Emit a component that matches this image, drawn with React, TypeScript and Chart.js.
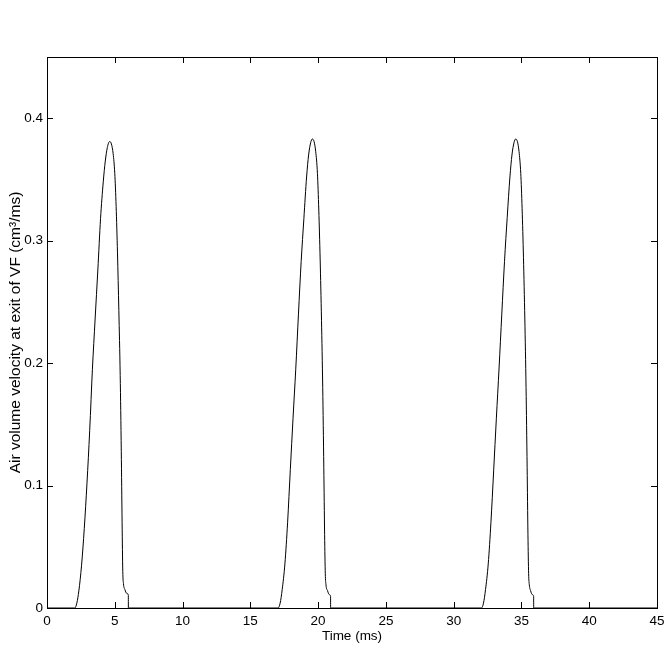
import React, { useEffect, useRef } from "react";
import { Chart, registerables } from "chart.js";

Chart.register(...registerables);

// Time (ms) and air volume velocity (cm^3/ms)
const pulse1T = [2.05, 2.2, 2.35, 2.55, 2.75, 2.95, 3.15, 3.35, 3.55, 3.75, 3.95, 4.15, 4.3, 4.45, 4.62, 4.75, 4.88, 5.0, 5.1, 5.2, 5.3, 5.4, 5.48, 5.54, 5.59, 5.64, 5.75, 5.88, 6.0, 6.002];
const pulse1V = [0, 0.004, 0.014, 0.035, 0.065, 0.102, 0.145, 0.195, 0.236, 0.276, 0.318, 0.348, 0.365, 0.376, 0.381, 0.379, 0.371, 0.355, 0.328, 0.29, 0.243, 0.19, 0.128, 0.07, 0.03, 0.02, 0.015, 0.012, 0.0105, 0];

const pulse2T = [17.05, 17.2, 17.35, 17.55, 17.75, 17.95, 18.15, 18.35, 18.55, 18.75, 18.95, 19.15, 19.3, 19.45, 19.57, 19.7, 19.82, 19.95, 20.05, 20.15, 20.25, 20.34, 20.42, 20.48, 20.53, 20.58, 20.7, 20.82, 20.92, 20.922];
const pulse2V = [0, 0.004, 0.015, 0.036, 0.07, 0.113, 0.155, 0.195, 0.24, 0.283, 0.318, 0.352, 0.37, 0.38, 0.383, 0.381, 0.373, 0.355, 0.325, 0.285, 0.235, 0.18, 0.115, 0.06, 0.028, 0.019, 0.014, 0.011, 0.0095, 0];

const pulse3T = [32.05, 32.2, 32.35, 32.55, 32.75, 32.95, 33.15, 33.35, 33.55, 33.75, 33.95, 34.15, 34.3, 34.45, 34.57, 34.7, 34.82, 34.95, 35.05, 35.15, 35.25, 35.34, 35.42, 35.48, 35.53, 35.58, 35.68, 35.79, 35.9, 35.902];
const pulse3V = [0, 0.004, 0.015, 0.036, 0.07, 0.112, 0.155, 0.196, 0.24, 0.283, 0.319, 0.352, 0.37, 0.38, 0.383, 0.381, 0.373, 0.355, 0.326, 0.286, 0.236, 0.18, 0.115, 0.06, 0.028, 0.019, 0.014, 0.011, 0.0095, 0];

const xTicks = [0, 5, 10, 15, 20, 25, 30, 35, 40, 45];
const yTicks = [0, 0.1, 0.2, 0.3, 0.4];
const xRange = [0, 45];
const yRange = [0, 0.45];

const FONT = "'Liberation Sans', Arial, Helvetica, sans-serif";

function buildPoints() {
  const pts: { x: number; y: number }[] = [{ x: xRange[0], y: 0 }];
  const add = (t: number[], v: number[]) => t.forEach((x, i) => pts.push({ x, y: v[i] }));
  add(pulse1T, pulse1V);
  add(pulse2T, pulse2V);
  add(pulse3T, pulse3V);
  pts.push({ x: xRange[1], y: 0 });
  return pts;
}

const frameTicks = {
  id: "frameTicks",
  afterDraw(chart: any) {
    const { ctx, chartArea: a, scales } = chart;
    const len = 6;
    ctx.save();
    ctx.strokeStyle = "#000";
    ctx.lineWidth = 1;
    ctx.beginPath();
    xTicks.forEach((v) => {
      const px = Math.round(scales.x.getPixelForValue(v)) + 0.5;
      ctx.moveTo(px, a.bottom);
      ctx.lineTo(px, a.bottom - len);
      ctx.moveTo(px, a.top);
      ctx.lineTo(px, a.top + len);
    });
    yTicks.forEach((v) => {
      const py = Math.round(scales.y.getPixelForValue(v)) + 0.5;
      ctx.moveTo(a.left, py);
      ctx.lineTo(a.left + len, py);
      ctx.moveTo(a.right, py);
      ctx.lineTo(a.right - len, py);
    });
    ctx.stroke();
    ctx.strokeRect(Math.round(a.left) + 0.5, Math.round(a.top) + 0.5, Math.round(a.right - a.left), Math.round(a.bottom - a.top));
    ctx.restore();
  },
};

export default function App() {
  const ref = useRef<HTMLCanvasElement | null>(null);
  useEffect(() => {
    document.body.style.margin = "0";
    const canvas = ref.current!;
    const chart = new Chart(canvas, {
      type: "line",
      data: {
        datasets: [
          {
            data: buildPoints(),
            borderColor: "#000",
            borderWidth: 1,
            pointRadius: 0,
            cubicInterpolationMode: "monotone",
            fill: false,
          },
        ],
      },
      options: {
        responsive: false,
        animation: false,
        events: [],
        layout: { padding: { top: 57, right: 13, left: 0, bottom: 0 } },
        plugins: { legend: { display: false }, tooltip: { enabled: false } },
        scales: {
          x: {
            type: "linear",
            min: xRange[0],
            max: xRange[1],
            afterBuildTicks: (s: any) => {
              s.ticks = xTicks.map((value) => ({ value }));
            },
            afterFit: (s: any) => {
              s.height = 43;
            },
            grid: { display: false, drawTicks: false },
            border: { display: false },
            ticks: {
              color: "#000",
              font: { family: FONT, size: 13.5 },
              padding: 5,
              maxRotation: 0,
              autoSkip: false,
              callback: (v: any) => String(v),
            },
            title: {
              display: true,
              text: "Time (ms)",
              color: "#000",
              font: { family: FONT, size: 13.5 },
              padding: { top: 7, bottom: 7 },
            },
          },
          y: {
            type: "linear",
            min: yRange[0],
            max: yRange[1],
            afterBuildTicks: (s: any) => {
              s.ticks = yTicks.map((value) => ({ value }));
            },
            afterFit: (s: any) => {
              s.width = 47;
            },
            grid: { display: false, drawTicks: false },
            border: { display: false },
            ticks: {
              color: "#000",
              font: { family: FONT, size: 13.5 },
              padding: 4,
              autoSkip: false,
              callback: (v: any) => String(v),
            },
            title: {
              display: true,
              text: "Air volume velocity at exit of VF (cm³/ms)",
              color: "#000",
              font: { family: FONT, size: 15.5 },
              padding: { top: 6.5, bottom: 6.5 },
            },
          },
        },
      },
      plugins: [frameTicks],
    });
    return () => chart.destroy();
  }, []);
  return (
    <div style={{ width: 670, height: 651, background: "#fff" }}>
      <canvas ref={ref} width={670} height={651} style={{ display: "block" }} />
    </div>
  );
}
